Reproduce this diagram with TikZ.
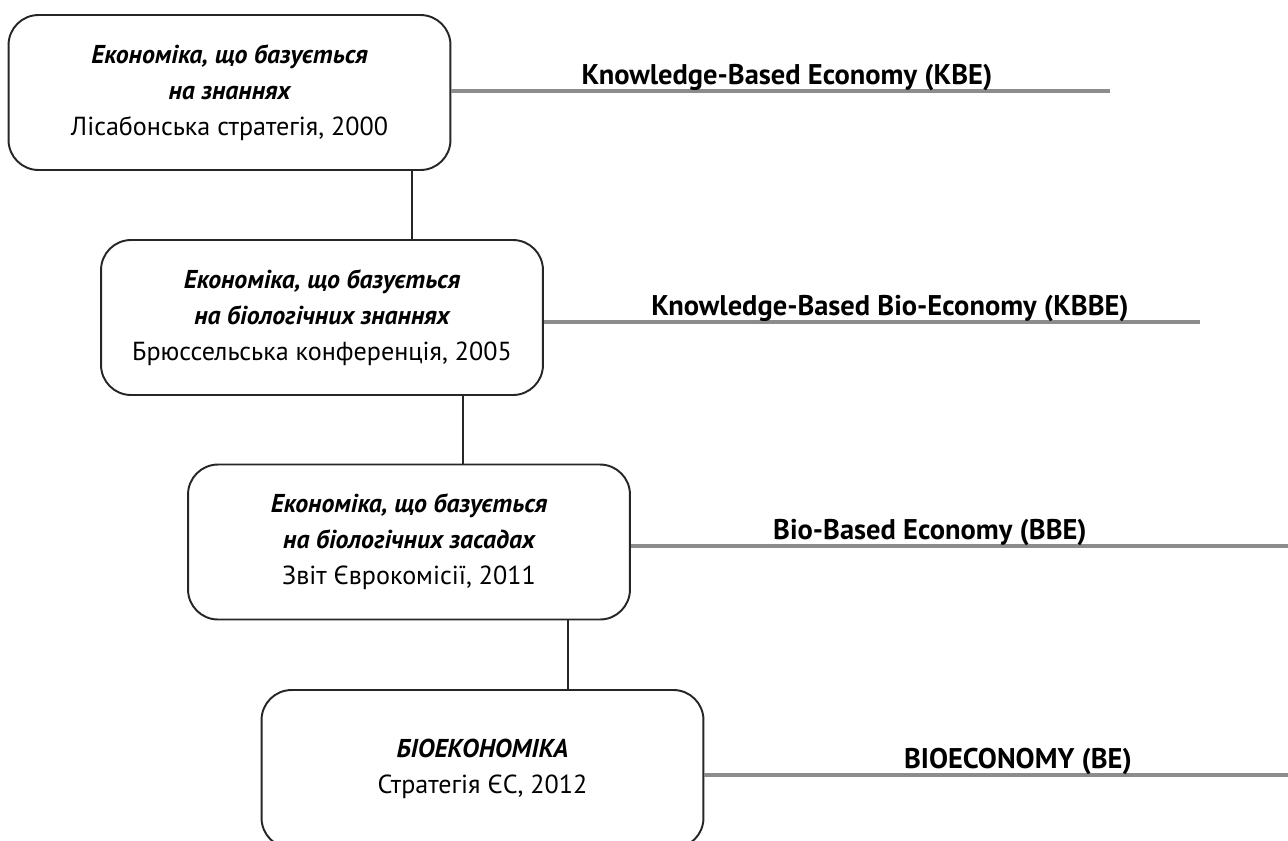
\documentclass[tikz,border=0pt]{standalone}
\usepackage{fontspec}
\setmainfont{PT Sans}
\usetikzlibrary{positioning}
\newcommand{\leadtext}[1]{{\fontsize{14.7}{20.6}\selectfont\bfseries\itshape #1}}

\begin{document}
\begin{tikzpicture}[x=0.02cm,y=-0.02cm,
        stage/.style={draw=black!85,line width=1.1pt,rounded corners=0.6cm,
            minimum width=8.84cm,minimum height=3.1cm,align=center,
            font=\fontsize{14.85}{20.6}\selectfont},
        term/.style={anchor=base,font=\fontsize{16.2}{19}\selectfont\bfseries},
        link/.style={draw=black!85,line width=1.1pt},
        band/.style={draw=black!45,line width=2.3pt}]
    \useasboundingbox (0,0) rectangle (1288,840);
    \clip (0,0) rectangle (1288,840);

    \node[stage] (kbe) at (229.5,92.5) {\leadtext{Економіка, що базується}\\
        \leadtext{на знаннях}\\ Лісабонська стратегія, 2000};
    \node[stage] (kbbe) at (322,317.5) {\leadtext{Економіка, що базується}\\
        \leadtext{на біологічних знаннях}\\ Брюссельська конференція, 2005};
    \node[stage] (bbe) at (409,542) {\leadtext{Економіка, що базується}\\
        \leadtext{на біологічних засадах}\\ Звіт Єврокомісії, 2011};
    \node[stage,minimum height=3.16cm] (be) at (482.5,769) {\leadtext{БІОЕКОНОМІКА}\\
        Стратегія ЄС, 2012};

    \coordinate (c1) at (412,0);
    \coordinate (c2) at (463,0);
    \coordinate (c3) at (568,0);
    \draw[link] (kbe.south -| c1) -- (kbbe.north -| c1);
    \draw[link] (kbbe.south -| c2) -- (bbe.north -| c2);
    \draw[link] (bbe.south -| c3) -- (be.north -| c3);

    \coordinate (e1) at (1110,91);
    \coordinate (e2) at (1200,322);
    \coordinate (e3) at (1288,546);
    \coordinate (e4) at (1288,775);
    \draw[band] (kbe.east |- e1) -- (e1);
    \draw[band] (kbbe.east |- e2) -- (e2);
    \draw[band] (bbe.east |- e3) -- (e3);
    \draw[band] (be.east |- e4) -- (e4);

    \node[term] (t1) at (787,84) {Knowledge-Based Economy (KBE)};
    \node[term] (t2) at (890,315) {Knowledge-Based Bio-Economy (KBBE)};
    \node[term] (t3) at (930,539) {Bio-Based Economy (BBE)};
    \node[term] (t4) at (1018,768) {BIOECONOMY (BE)};
\end{tikzpicture}
\end{document}
